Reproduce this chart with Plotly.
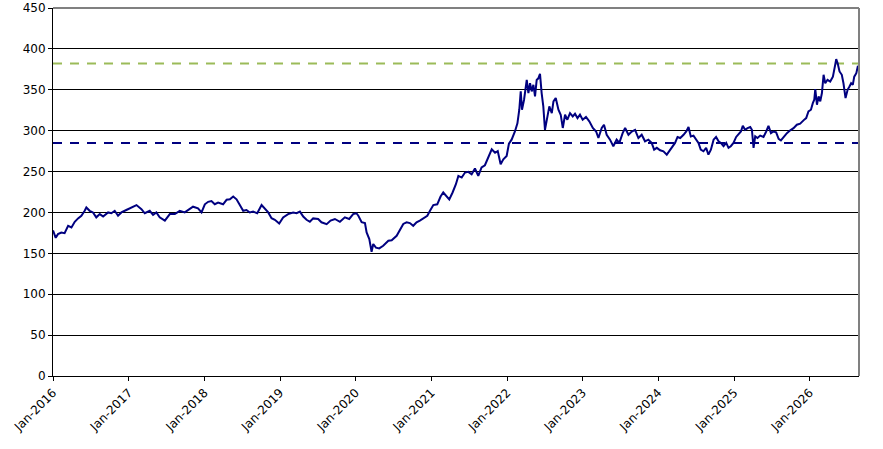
import plotly.graph_objects as go

# serie (aprox. quinzenal)
dates = [
    "2016-01-01", "2016-01-14", "2016-01-25", "2016-02-10", "2016-02-26", "2016-03-14", "2016-03-30",
    "2016-04-15", "2016-05-01", "2016-05-17", "2016-06-02", "2016-06-10", "2016-06-26", "2016-07-12",
    "2016-07-28", "2016-08-14", "2016-08-30", "2016-09-23", "2016-10-09", "2016-10-25", "2016-11-10",
    "2016-11-26", "2016-12-20",
    "2017-01-14", "2017-02-07", "2017-03-03", "2017-03-19", "2017-04-12", "2017-04-28", "2017-05-14",
    "2017-05-30", "2017-06-24", "2017-07-18", "2017-08-11", "2017-09-04", "2017-09-28", "2017-10-14",
    "2017-11-07", "2017-12-01", "2017-12-18",
    "2018-01-03", "2018-01-19", "2018-02-04", "2018-02-20", "2018-03-08", "2018-04-01", "2018-04-18",
    "2018-05-04", "2018-05-20", "2018-06-05", "2018-06-21", "2018-07-07", "2018-07-23", "2018-08-08",
    "2018-08-24", "2018-09-13", "2018-10-04", "2018-10-20", "2018-11-05", "2018-11-21", "2018-12-07",
    "2018-12-28",
    "2019-01-16", "2019-02-09", "2019-03-05", "2019-03-22", "2019-04-07", "2019-04-23", "2019-05-09",
    "2019-05-25", "2019-06-10", "2019-07-04", "2019-07-20", "2019-08-14", "2019-09-02", "2019-09-23",
    "2019-10-17", "2019-11-10", "2019-12-01", "2019-12-20",
    "2020-01-05", "2020-01-14", "2020-01-30", "2020-02-15", "2020-02-23", "2020-03-07", "2020-03-18",
    "2020-03-26", "2020-04-08", "2020-04-24", "2020-05-13", "2020-06-07", "2020-06-23", "2020-07-17",
    "2020-08-02", "2020-08-18", "2020-09-03", "2020-09-19", "2020-10-05", "2020-10-21", "2020-11-06",
    "2020-11-23", "2020-12-12", "2020-12-25",
    "2021-01-10", "2021-01-29", "2021-02-14", "2021-02-27", "2021-03-15", "2021-03-28", "2021-04-13",
    "2021-04-29", "2021-05-11", "2021-05-27", "2021-06-12", "2021-06-28", "2021-07-14", "2021-07-30",
    "2021-08-15", "2021-08-31", "2021-09-16", "2021-10-03", "2021-10-19", "2021-11-04", "2021-11-17",
    "2021-12-01", "2021-12-14", "2021-12-30",
    "2022-01-10", "2022-01-23", "2022-02-08", "2022-02-20", "2022-03-01", "2022-03-08", "2022-03-14",
    "2022-03-24", "2022-04-06", "2022-04-14", "2022-04-22", "2022-04-30", "2022-05-08", "2022-05-16",
    "2022-05-24", "2022-06-01", "2022-06-09", "2022-06-17", "2022-06-25", "2022-07-03", "2022-07-11",
    "2022-07-24", "2022-08-05", "2022-08-13", "2022-08-24", "2022-09-06", "2022-09-17", "2022-09-27",
    "2022-10-08", "2022-10-19", "2022-11-01", "2022-11-14", "2022-11-25", "2022-12-07", "2022-12-19",
    "2023-01-01", "2023-01-17", "2023-02-02", "2023-02-19", "2023-03-07", "2023-03-18", "2023-04-03",
    "2023-04-14", "2023-04-27", "2023-05-13", "2023-05-29", "2023-06-14", "2023-06-27", "2023-07-13",
    "2023-07-25", "2023-08-10", "2023-08-26", "2023-09-11", "2023-09-27", "2023-10-13", "2023-10-29",
    "2023-11-14", "2023-11-30", "2023-12-12", "2023-12-25",
    "2024-01-10", "2024-01-26", "2024-02-11", "2024-02-27", "2024-03-06", "2024-03-22", "2024-04-03",
    "2024-04-16", "2024-05-02", "2024-05-15", "2024-05-26", "2024-06-06", "2024-06-19", "2024-07-02",
    "2024-07-13", "2024-07-24", "2024-08-06", "2024-08-19", "2024-08-30", "2024-09-11", "2024-09-24",
    "2024-10-06", "2024-10-18", "2024-10-29", "2024-11-11", "2024-11-24", "2024-12-05", "2024-12-16",
    "2024-12-29",
    "2025-01-11", "2025-01-22", "2025-02-03", "2025-02-12", "2025-02-23", "2025-03-07", "2025-03-20",
    "2025-03-28", "2025-04-05", "2025-04-13", "2025-04-24", "2025-05-07", "2025-05-23", "2025-06-05",
    "2025-06-16", "2025-06-28", "2025-07-10", "2025-07-23", "2025-08-04", "2025-08-15", "2025-08-28",
    "2025-09-13", "2025-09-29", "2025-10-15", "2025-10-31", "2025-11-16", "2025-12-02", "2025-12-15",
    "2025-12-26",
    "2026-01-07", "2026-01-16", "2026-01-23", "2026-01-28", "2026-02-05", "2026-02-13", "2026-02-21",
    "2026-03-01", "2026-03-09", "2026-03-17", "2026-03-28", "2026-04-10", "2026-04-23", "2026-05-04",
    "2026-05-09", "2026-05-16", "2026-05-25", "2026-06-05", "2026-06-13", "2026-06-23", "2026-07-03",
    "2026-07-12", "2026-07-20", "2026-07-28", "2026-08-04", "2026-08-14", "2026-08-22",
]
values = [
    178, 169, 173.5, 175.5, 174.7, 183.7, 181.7,
    188.6, 192.7, 196, 202, 206, 202, 200,
    194, 198, 195, 200, 199, 202, 196,
    200, 203,
    206, 209, 204, 199, 202, 197, 200,
    194, 190, 198, 198, 202, 200, 203,
    207, 205, 200,
    210, 213, 214, 210, 212, 210, 215.5,
    216, 219.5, 216, 209, 202, 203, 200,
    201, 199, 209, 205, 200, 193, 191,
    186.5,
    194, 198, 200, 199, 201, 195, 191,
    188.6, 192.7, 192, 188, 185.7, 190, 192,
    188.6, 194, 192, 198,
    199, 196, 188, 187, 175.6, 167.5, 152,
    161.4, 157, 156, 159.3, 165.4, 166, 171.5,
    179.7, 186, 188, 187, 183.7, 188, 190,
    192.7, 196, 202,
    209, 210, 219.5, 224.4, 219.5, 216, 224.4,
    234.5, 244.7, 242.7, 248.8, 249.6, 246.7, 253.7,
    244.7, 255, 257.7, 267, 277.2, 273, 275,
    259, 265, 269,
    284, 289, 299, 309, 325.6, 348, 325.6,
    337.8, 362, 346, 358, 348, 356, 342,
    362, 364, 369.5, 346, 329.7, 301, 313.4,
    329.7, 321.5, 335.8, 340, 325.6, 319.5, 303.3,
    319.5, 313.4, 321.5, 317.5, 320.7, 315.4, 319.5,
    313.4, 316.7, 311.4, 303.3, 299, 291, 303.3,
    307.3, 295, 289, 281, 289, 285, 297,
    303.3, 295, 299, 301, 291, 295, 287,
    289, 285, 276.8, 279,
    276, 274.8, 270.7, 276.8, 279, 285, 292.3,
    291, 295, 299, 304.5, 293, 294, 289,
    285, 276.8, 274.8, 279, 270.7, 276.8, 289,
    292.3, 287, 285, 281, 285, 279, 281,
    285,
    292.3, 295, 299, 306, 301, 303, 304.5,
    301, 279, 293, 291, 294, 292.3, 299,
    306, 297, 299, 298, 290, 288, 292.3,
    297, 300.4, 303, 307.3, 308.5, 312.6, 315.4,
    323.6,
    325.6, 333.7, 337.8, 350.8, 331.7, 341.9, 335.8,
    346, 368.3, 358, 362.2, 360, 366, 380.5,
    387.4, 382.5, 372.4, 368.3, 358, 339.8, 350,
    354, 358, 356, 366, 370.3, 379.3,
]

# niveis das linhas tracejadas
upper_level = 382
lower_level = 285

x_start = "2016-01-01"
x_end = "2026-08-27"

NAVY = "#000080"
GREEN = "#9BBB59"


def build_figure():
    fig = go.Figure()
    fig.add_trace(go.Scatter(
        x=[x_start, x_end], y=[upper_level, upper_level], mode="lines",
        line=dict(color=GREEN, width=2, dash="9px,8px"), hoverinfo="skip"
    ))
    fig.add_trace(go.Scatter(
        x=[x_start, x_end], y=[lower_level, lower_level], mode="lines",
        line=dict(color=NAVY, width=2, dash="9px,8px"), hoverinfo="skip"
    ))
    fig.add_trace(go.Scatter(
        x=dates, y=values, mode="lines",
        line=dict(color=NAVY, width=2)
    ))

    axis_font = dict(family="DejaVu Sans", size=12, color="#000000")
    fig.update_layout(
        width=883, height=449,
        margin=dict(l=53, r=24, t=8, b=73),
        paper_bgcolor="white",
        plot_bgcolor="white",
        showlegend=False,
        xaxis=dict(
            type="date",
            range=[x_start, x_end],
            tick0="2016-01-01", dtick="M12",
            tickformat="%b-%Y", tickangle=-45,
            tickfont=axis_font,
            showgrid=False, zeroline=False,
            showline=True, linecolor="#000000", linewidth=1,
            ticks="outside", ticklen=4, tickcolor="#000000",
            automargin=False,
        ),
        yaxis=dict(
            range=[0, 450], dtick=50,
            tickfont=axis_font,
            showgrid=True, gridcolor="#000000", gridwidth=1,
            zeroline=False,
            showline=True, linecolor="#000000", linewidth=1,
            ticks="outside", ticklen=4, tickcolor="#000000",
            automargin=False,
        ),
        shapes=[
            # borda cinza superior e direita da area do grafico
            dict(type="line", xref="paper", yref="paper", x0=0, x1=1, y0=1, y1=1,
                 line=dict(color="#808080", width=2), layer="above"),
            dict(type="line", xref="paper", yref="paper", x0=1, x1=1, y0=0, y1=1,
                 line=dict(color="#808080", width=2), layer="above"),
        ],
    )
    return fig


def main():
    fig = build_figure()
    # tira a margem padrao do body para o grafico ocupar a janela toda
    fig.write_html(
        "out.html",
        config={"displayModeBar": False},
        post_script="document.body.style.margin = '0';",
    )


if __name__ == "__main__":
    main()
